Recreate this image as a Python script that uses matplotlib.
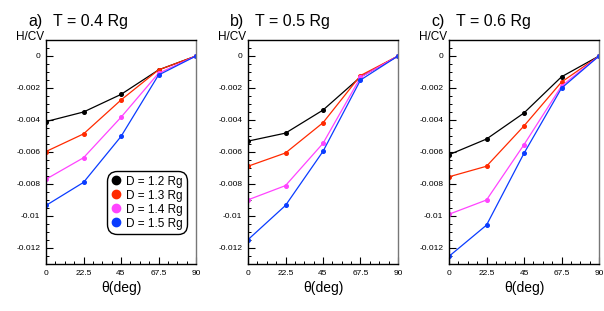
import matplotlib
matplotlib.use("Agg")
import matplotlib.pyplot as plt
from matplotlib.ticker import MultipleLocator, FixedLocator
from matplotlib.lines import Line2D

theta = [0, 22.5, 45, 67.5, 90]
panel_labels = ["a)", "b)", "c)"]
panel_titles = ["T = 0.4 Rg", "T = 0.5 Rg", "T = 0.6 Rg"]
series_names = ["D = 1.2 Rg", "D = 1.3 Rg", "D = 1.4 Rg", "D = 1.5 Rg"]
colors = ["#000000", "#ff2a00", "#ff44ff", "#0a3cff"]

# panel a (T = 0.4 Rg)
a_d12 = [-0.0041, -0.0035, -0.0024, -0.00087, 0.0]
a_d13 = [-0.00597, -0.00487, -0.00275, -0.00087, 0.0]
a_d14 = [-0.0077, -0.00636, -0.00383, -0.00108, 0.0]
a_d15 = [-0.00934, -0.0079, -0.00503, -0.00119, 0.0]
# panel b (T = 0.5 Rg)
b_d12 = [-0.00532, -0.00482, -0.00338, -0.00131, 0.0]
b_d13 = [-0.00689, -0.00606, -0.00417, -0.00122, 0.0]
b_d14 = [-0.00899, -0.0081, -0.00546, -0.00133, 0.0]
b_d15 = [-0.01148, -0.00934, -0.00596, -0.0015, 0.0]
# panel c (T = 0.6 Rg)
c_d12 = [-0.00617, -0.00519, -0.00356, -0.0013, 0.0]
c_d13 = [-0.00755, -0.00689, -0.00437, -0.00163, 0.0]
c_d14 = [-0.00989, -0.009, -0.00554, -0.00188, 0.0]
c_d15 = [-0.01252, -0.01057, -0.00608, -0.00201, 0.0]

panels = [[a_d12, a_d13, a_d14, a_d15],
          [b_d12, b_d13, b_d14, b_d15],
          [c_d12, c_d13, c_d14, c_d15]]

ytick_vals = [0, -0.002, -0.004, -0.006, -0.008, -0.01, -0.012]
ytick_labels = ["0", "-0.002", "-0.004", "-0.006", "-0.008", "-0.01", "-0.012"]
xtick_labels = ["0", "22.5", "45", "67.5", "90"]

W, H = 604, 311
fig = plt.figure(figsize=(W / 100, H / 100), dpi=100)
plt.rcParams['font.family'] = ['Liberation Sans', 'DejaVu Sans']

lefts = [46, 248, 449]
ax_w = 150
top, bottom = 40, 264

for i, (left, series) in enumerate(zip(lefts, panels)):
    ax = fig.add_axes([left / W, 1 - bottom / H, ax_w / W, (bottom - top) / H])
    for vals, c in zip(series, colors):
        ax.plot(theta, vals, color=c, lw=0.9, marker='o', ms=2.6,
                mec=c, mfc=c, clip_on=True)
    ax.set_xlim(0, 90)
    ax.set_ylim(-0.013, 0.001)
    ax.xaxis.set_major_locator(FixedLocator(theta))
    ax.set_xticklabels(xtick_labels)
    ax.xaxis.set_minor_locator(MultipleLocator(5.625))
    ax.yaxis.set_major_locator(FixedLocator(ytick_vals))
    ax.set_yticklabels(ytick_labels)
    ax.yaxis.set_minor_locator(MultipleLocator(0.0005))
    ax.tick_params(axis='both', which='both', direction='in',
                   top=False, right=False, labelsize=6, pad=4)
    ax.tick_params(axis='both', which='major', length=5, width=0.8)
    ax.tick_params(axis='both', which='minor', length=2.5, width=0.7)
    for s in ax.spines.values():
        s.set_linewidth(1.0)
    ax.spines['right'].set_color('#777777')
    ax.set_xlabel("θ(deg)", fontsize=10, labelpad=3)
    fig.text((left - 30) / W, 1 - 43 / H, "H/CV", fontsize=8.5,
             ha='left', va='bottom')
    fig.text((left - 18) / W, 1 - 26 / H, panel_labels[i], fontsize=11.5,
             ha='left', va='baseline')
    fig.text((left + 7) / W, 1 - 26 / H, panel_titles[i], fontsize=11.5,
             ha='left', va='baseline')
    if i == 0:
        handles = [Line2D([], [], ls='none', marker='o', ms=6, color=c)
                   for c in colors]
        leg = ax.legend(handles, series_names, loc='lower right',
                        bbox_to_anchor=(0.94, 0.135), fontsize=8.5,
                        frameon=True, fancybox=True, handlelength=0.8,
                        handletextpad=0.45, labelspacing=0.17,
                        borderpad=0.35, borderaxespad=0.0,
                        edgecolor='black', framealpha=1)
        leg.get_frame().set_linewidth(1.0)
        leg.get_frame().set_boxstyle('round,pad=0.0,rounding_size=0.8')

fig.savefig("out.png", dpi=100)
